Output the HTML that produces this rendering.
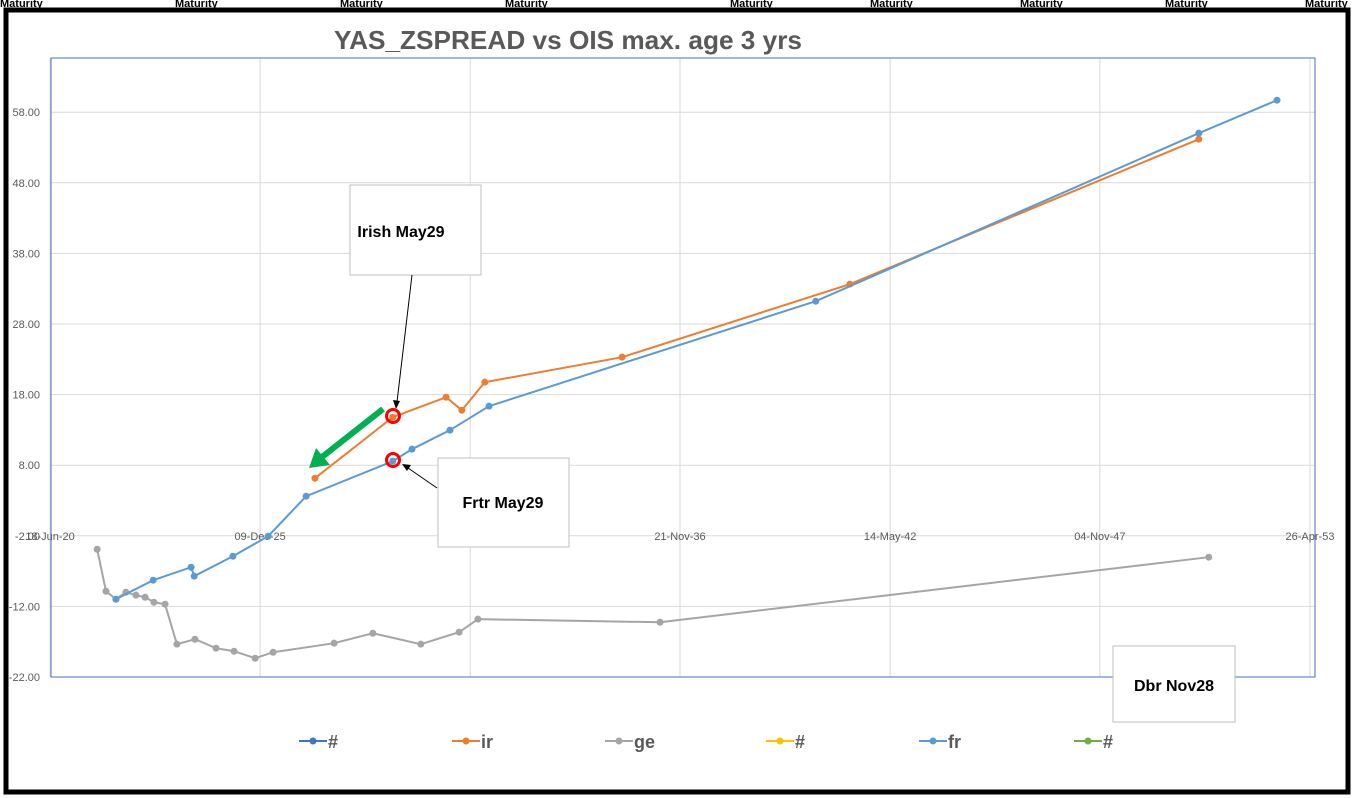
<!DOCTYPE html>
<html><head><meta charset="utf-8"><style>
html,body{margin:0;padding:0;background:#fff;}
svg{display:block;font-family:"Liberation Sans",sans-serif;}
</style></head><body>
<svg id="c" width="1354" height="798" viewBox="0 0 1354 798">
<g id="sheet">
<text x="0" y="7" font-size="11" font-weight="bold" fill="#000">Maturity</text>
<text x="175" y="7" font-size="11" font-weight="bold" fill="#000">Maturity</text>
<text x="340" y="7" font-size="11" font-weight="bold" fill="#000">Maturity</text>
<text x="505" y="7" font-size="11" font-weight="bold" fill="#000">Maturity</text>
<text x="730" y="7" font-size="11" font-weight="bold" fill="#000">Maturity</text>
<text x="870" y="7" font-size="11" font-weight="bold" fill="#000">Maturity</text>
<text x="1020" y="7" font-size="11" font-weight="bold" fill="#000">Maturity</text>
<text x="1165" y="7" font-size="11" font-weight="bold" fill="#000">Maturity</text>
<text x="1305" y="7" font-size="11" font-weight="bold" fill="#000">Maturity</text>
</g>
<rect x="6" y="10" width="1342" height="782" fill="#fff" stroke="#000" stroke-width="5"/>
<text x="568" y="49" text-anchor="middle" font-size="26" font-weight="bold" fill="#595959" textLength="468" lengthAdjust="spacingAndGlyphs">YAS_ZSPREAD vs OIS max. age 3 yrs</text>
<g id="grid"></g>
<rect x="51" y="58" width="1264" height="619" fill="none" stroke="#4472c4" stroke-width="1"/>
<g id="series"></g>
<g id="ann">
<rect x="350" y="185" width="131" height="90" fill="#fff" stroke="#bfbfbf"/>
<text x="401" y="237" text-anchor="middle" font-size="16" font-weight="bold" fill="#000">Irish May29</text>
<line x1="412" y1="275" x2="397" y2="402" stroke="#000" stroke-width="1"/>
<polygon points="396,409 393,400 400,401" fill="#000"/>
<rect x="438" y="458" width="131" height="89" fill="#fff" stroke="#bfbfbf"/>
<text x="503" y="508" text-anchor="middle" font-size="16" font-weight="bold" fill="#000">Frtr May29</text>
<line x1="437" y1="488" x2="408" y2="468" stroke="#000" stroke-width="1"/>
<polygon points="402,464 411,465 407,471" fill="#000"/>
<rect x="1113" y="646" width="122" height="76" fill="#fff" stroke="#bfbfbf"/>
<text x="1174" y="691" text-anchor="middle" font-size="16" font-weight="bold" fill="#000">Dbr Nov28</text>
<circle cx="393" cy="416" r="6.5" fill="none" stroke="#ff0000" stroke-width="3"/>
<circle cx="393" cy="460" r="6.5" fill="none" stroke="#ff0000" stroke-width="3"/>
<line x1="383" y1="409" x2="322" y2="457" stroke="#00b050" stroke-width="6"/>
<polygon points="309,468 316,448 330,465" fill="#00b050"/>
</g>
<g id="legend"></g>
</svg>
<script>
const yTicks = [-22, -12, -2, 8, 18, 28, 38, 48, 58];
const xTickLabels = ["18-Jun-20", "09-Dec-25", "01-Jun-31", "21-Nov-36", "14-May-42", "04-Nov-47", "26-Apr-53"];
const xTickYears = [2020.46, 2025.94, 2031.42, 2036.89, 2042.37, 2047.84, 2053.32];
const geX = [2021.69,2021.92,2022.18,2022.44,2022.70,2022.94,2023.17,2023.46,2023.77,2024.24,2024.79,2025.26,2025.81,2026.28,2027.87,2028.88,2030.13,2031.13,2031.62,2036.37,2050.68];
const geY = [-3.9,-9.85,-10.98,-9.99,-10.41,-10.70,-11.41,-11.69,-17.35,-16.65,-17.92,-18.35,-19.34,-18.49,-17.21,-15.80,-17.35,-15.65,-13.81,-14.24,-5.03];
const frX = [2022.18,2023.15,2024.14,2024.22,2025.23,2026.15,2027.14,2029.40,2029.90,2030.89,2031.91,2040.43,2050.42,2052.46];
const frY = [-10.98,-8.29,-6.45,-7.72,-4.89,-2.06,3.61,8.57,10.27,12.96,16.36,31.23,55.03,59.70];
const irX = [2027.37,2029.40,2030.79,2031.20,2031.80,2035.38,2041.32,2050.42];
const irY = [6.16,14.80,17.63,15.79,19.76,23.30,33.64,54.18];
const legendNames = ["#","ir","ge","#","fr","#"];
const legendColors = ["#4472c4","#ed7d31","#a5a5a5","#ffc000","#5b9bd5","#70ad47"];

const NS="http://www.w3.org/2000/svg";
const X0=50, X1=1310, Y0=677, PXY=7.06;
const xMin=2020.46, xMax=2053.32;
function sx(v){return X0+(v-xMin)/(xMax-xMin)*(X1-X0);}
function sy(v){return Y0-(v-(-22))*PXY;}
function mk(tag,attrs,parent){const e=document.createElementNS(NS,tag);for(const k in attrs)e.setAttribute(k,attrs[k]);parent.appendChild(e);return e;}
const grid=document.getElementById('grid');
yTicks.forEach(t=>{
  const l=mk('line',{x1:51,x2:1315,y1:sy(t),y2:sy(t),stroke:'#d9d9d9','stroke-width':1},grid);
  
  
  const tx=mk('text',{x:40,y:sy(t)+4,'text-anchor':'end','font-size':11,fill:'#595959'},grid);
  
  
  tx.textContent=t.toFixed(2);
});
xTickYears.forEach((t,i)=>{
  const l=mk('line',{x1:sx(t),x2:sx(t),y1:58,y2:677,stroke:'#d9d9d9','stroke-width':1},grid);
  
  
  const tx=mk('text',{x:sx(t),y:sy(-2)+4,'text-anchor':'middle','font-size':11,fill:'#595959'},grid);
  
  
  tx.textContent=xTickLabels[i];
});
const ser=document.getElementById('series');
function drawSeries(xs,ys,color,name){
  const g=mk('g',{},ser);
  
  
  const p=mk('polyline',{points:xs.map((x,i)=>sx(x)+','+sy(ys[i])).join(' '),fill:'none',stroke:color,'stroke-width':2},g);
  
  
  xs.forEach((x,i)=>{
    const c=mk('circle',{cx:sx(x),cy:sy(ys[i]),r:3.5,fill:color},g);
    
    
  });
}
drawSeries(geX,geY,'#a5a5a5','ge');
drawSeries(irX,irY,'#ed7d31','ir');
drawSeries(frX,frY,'#5b9bd5','fr');
document.getElementById('series').parentNode.appendChild(document.getElementById('ann'));
const lg=document.getElementById('legend');
const lx=[299,452,605,766,919,1074];
legendNames.forEach((n,i)=>{
  const g=mk('g',{},lg);
  
  
  mk('line',{x1:lx[i],x2:lx[i]+28,y1:741,y2:741,stroke:legendColors[i],'stroke-width':2},g);
  mk('circle',{cx:lx[i]+14,cy:741,r:3.5,fill:legendColors[i]},g);
  const t=mk('text',{x:lx[i]+29,y:748,'font-size':18,'font-weight':'bold',fill:'#595959'},g);
  t.textContent=n;
});
</script>
</body></html>
